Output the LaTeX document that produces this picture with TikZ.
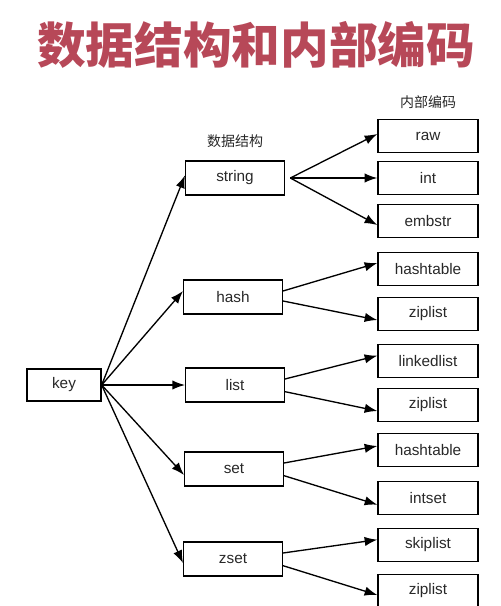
\documentclass[tikz,border=0pt]{standalone}
\usepackage{fontspec}
\setmainfont{Liberation Sans}
\newfontfamily\cjk{Noto Sans CJK SC}
\usetikzlibrary{positioning, arrows.meta}
\definecolor{titlered}{RGB}{183,72,88}
\definecolor{inkgray}{RGB}{40,40,40}

\begin{document}
\begin{tikzpicture}[
    x=0.75pt, y=-0.75pt,
    font=\fontsize{11.5}{13}\selectfont,
    text=inkgray,
    box/.style={
        draw=black,
        line width=1pt,
        inner sep=0pt
    },
    keybox/.style={
        box,
        minimum width=55.5pt,
        minimum height=24pt
    },
    dsbox/.style={
        box,
        minimum width=74pt,
        minimum height=25.5pt
    },
    encbox/.style={
        box,
        minimum width=75pt,
        minimum height=24.75pt
    },
    caption/.style={
        font=\cjk\fontsize{10.5}{12}\selectfont
    },
    title/.style={
        font=\cjk\bfseries\fontsize{36.5}{40}\selectfont,
        text=titlered
    },
    arr/.style={
        -{Latex[length=9.5pt,width=7pt]},
        line width=1pt
    }
]
    \useasboundingbox (0,0) rectangle (500,606);

    % Title
    \node[title] (title) at (256,45) {数据结构和内部编码};

    % Key
    \node[keybox] (key) at (64,385) {key};

    % Data structures
    \node[dsbox] (string) at (235,178) {string};
    \node[dsbox] (hash) at (233,297) {hash};
    \node[dsbox] (list) at (235,385) {list};
    \node[dsbox] (set) at (234,469) {set};
    \node[dsbox] (zset) at (233,559) {zset};
    \node[caption, above=6pt of string] (dslabel) {数据结构};

    % Encodings
    \node[encbox] (raw) at (428,136) {raw};
    \node[encbox] (int) at (428,178) {int};
    \node[encbox] (embstr) at (428,221) {embstr};
    \node[encbox] (hashtableA) at (428,269) {hashtable};
    \node[encbox] (ziplistA) at (428,314) {ziplist};
    \node[encbox] (linkedlist) at (428,361) {linkedlist};
    \node[encbox] (ziplistB) at (428,405) {ziplist};
    \node[encbox] (hashtableB) at (428,450) {hashtable};
    \node[encbox] (intset) at (428,498) {intset};
    \node[encbox] (skiplist) at (428,545) {skiplist};
    \node[encbox] (ziplistC) at (428,591) {ziplist};
    \node[caption, above=4pt of raw] (enclabel) {内部编码};

    % Key to data structures
    \draw[arr] (key.east) -- ([yshift=2pt]string.west);
    \draw[arr] (key.east) -- ([yshift=4.5pt]hash.west);
    \draw[arr] (key.east) -- (list.west);
    \draw[arr] (key.east) -- ([yshift=-4.5pt]set.west);
    \draw[arr] (key.east) -- ([yshift=-3pt]zset.west);

    % Data structures to encodings
    \draw[arr] ([xshift=4pt]string.east) -- ([yshift=1.5pt]raw.west);
    \draw[arr] ([xshift=4pt]string.east) -- (int.west);
    \draw[arr] ([xshift=4pt]string.east) -- ([yshift=-3pt]embstr.west);
    \draw[arr] ([yshift=4.5pt]hash.east) -- ([yshift=4.5pt]hashtableA.west);
    \draw[arr] ([yshift=-3pt]hash.east) -- ([yshift=-4.5pt]ziplistA.west);
    \draw[arr] ([yshift=4.5pt]list.east) -- ([yshift=4pt]linkedlist.west);
    \draw[arr] ([yshift=-5pt]list.east) -- ([yshift=-4.5pt]ziplistB.west);
    \draw[arr] ([yshift=4.5pt]set.east) -- ([yshift=3pt]hashtableB.west);
    \draw[arr] ([yshift=-5pt]set.east) -- ([yshift=-5pt]intset.west);
    \draw[arr] ([yshift=4.5pt]zset.east) -- ([yshift=4pt]skiplist.west);
    \draw[arr] ([yshift=-5pt]zset.east) -- ([yshift=-3pt]ziplistC.west);

\end{tikzpicture}
\end{document}
